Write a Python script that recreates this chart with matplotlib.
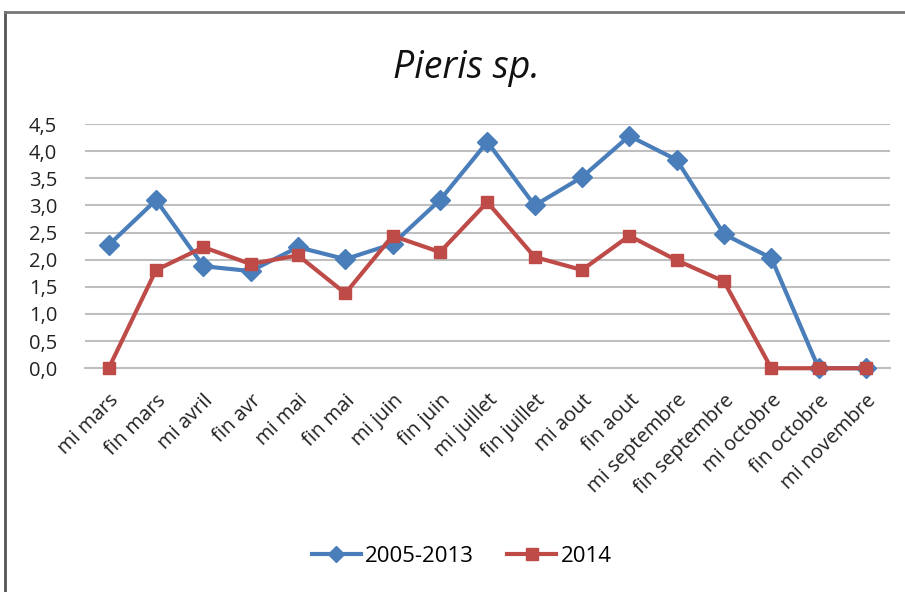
import matplotlib

matplotlib.use("Agg")
import matplotlib.pyplot as plt
from matplotlib.lines import Line2D
from matplotlib.ticker import FuncFormatter

categories = [
    "mi mars", "fin mars", "mi avril", "fin avr", "mi mai", "fin mai",
    "mi juin", "fin juin", "mi juillet", "fin juillet", "mi aout", "fin aout",
    "mi septembre", "fin septembre", "mi octobre", "fin octobre", "mi novembre",
]
series_2005_2013 = [2.27, 3.10, 1.88, 1.79, 2.23, 2.01, 2.29, 3.10, 4.17,
                    3.00, 3.52, 4.28, 3.84, 2.47, 2.03, 0.0, 0.0]
series_2014 = [0.0, 1.81, 2.23, 1.92, 2.08, 1.38, 2.44, 2.14, 3.06,
               2.05, 1.81, 2.44, 1.99, 1.60, 0.0, 0.0, 0.0]
y_ticks = [0, 0.5, 1.0, 1.5, 2.0, 2.5, 3.0, 3.5, 4.0, 4.5]

BLUE = "#4A7EBB"
RED = "#BE4B48"
FONT = ["Open Sans", "DejaVu Sans"]

plt.rcParams["font.family"] = FONT

fig = plt.figure(figsize=(9.05, 5.92), dpi=100)
ax = fig.add_axes([0.094, 0.378, 0.889, 0.4125])

x = list(range(len(categories)))
ax.plot(x, series_2005_2013, color=BLUE, lw=3, marker="D", ms=10,
        label="2005-2013", clip_on=False, zorder=3)
ax.plot(x, series_2014, color=RED, lw=3, marker="s", ms=9,
        label="2014", clip_on=False, zorder=4)

ax.set_xlim(-0.5, len(categories) - 0.5)
ax.set_ylim(0, 4.5)
ax.set_yticks(y_ticks)
ax.yaxis.set_major_formatter(FuncFormatter(lambda v, p: f"{v:.1f}".replace(".", ",")))
ax.set_xticks(x)
ax.set_xticklabels(categories, rotation=45, ha="right", rotation_mode="anchor")
ax.tick_params(axis="both", length=0, labelsize=14.5, colors="#222222")
ax.tick_params(axis="x", pad=16)
ax.tick_params(axis="y", pad=20)
ax.grid(axis="y", color="#BFBFBF", lw=1.5)
ax.set_axisbelow(True)
for side in ("top", "right", "left"):
    ax.spines[side].set_visible(False)
ax.spines["bottom"].set_color("#BFBFBF")
ax.spines["bottom"].set_linewidth(1.5)

fig.text(0.515, 0.885, "Pieris sp.", ha="center", va="center",
         fontsize=27, style="italic", color="#111111")

handles = [
    Line2D([], [], color=BLUE, lw=3, marker="D", ms=8),
    Line2D([], [], color=RED, lw=3, marker="s", ms=8),
]
fig.legend(handles, ["2005-2013", "2014"], loc="center", ncol=2,
           bbox_to_anchor=(0.51, 0.06), frameon=False, fontsize=16,
           handlelength=2.2, columnspacing=1.5, handletextpad=0.2)

# chart border (left and top visible in the picture)
fig.add_artist(Line2D([0.006, 0.006], [0.0, 0.98], color="#555555", lw=2))
fig.add_artist(Line2D([0.006, 1.0], [0.98, 0.98], color="#777777", lw=2))

fig.savefig("out.png", dpi=100)
